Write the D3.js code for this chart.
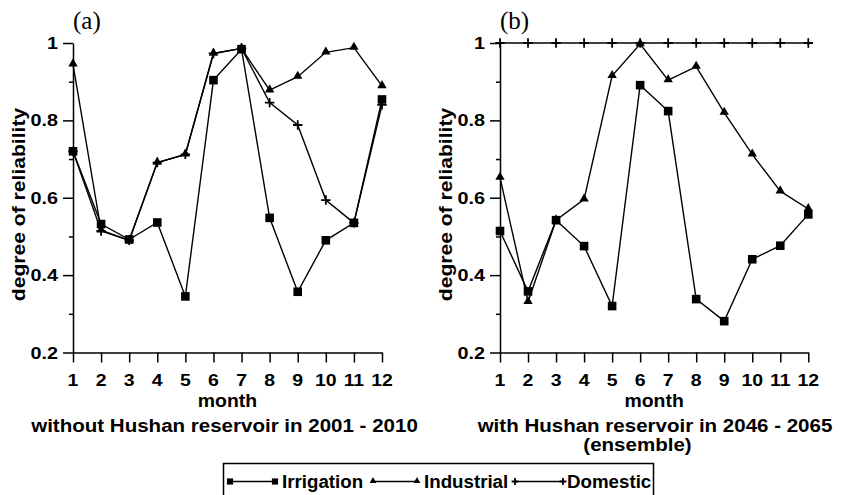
<!DOCTYPE html>
<html>
<head>
<meta charset="utf-8">
<script src="https://cdn.jsdelivr.net/npm/d3@7"></script>
<style>
  body { margin: 0; background: #fff; }
  svg text { font-family: "Liberation Sans", Arial, sans-serif; font-weight: bold; fill: #000; }
  svg text.tag { font-family: "Liberation Serif", "Times New Roman", serif; font-weight: normal; }
</style>
</head>
<body>
<svg id="chart" width="842" height="495"></svg>
<script>
// ---- data ----
const months = [1, 2, 3, 4, 5, 6, 7, 8, 9, 10, 11, 12];
const yTicks = [0.2, 0.4, 0.6, 0.8, 1];
const yMinor = [0.3, 0.5, 0.7, 0.9];

const irrigationA = [0.72, 0.532, 0.492, 0.536, 0.345, 0.904, 0.984, 0.548, 0.357, 0.49, 0.535, 0.854];
const industrialA = [0.945, 0.516, 0.49, 0.691, 0.712, 0.973, 0.986, 0.878, 0.913, 0.976, 0.988, 0.889];
const domesticA = [0.72, 0.514, 0.49, 0.691, 0.712, 0.973, 0.986, 0.846, 0.788, 0.594, 0.535, 0.84];

const irrigationB = [0.514, 0.358, 0.542, 0.475, 0.32, 0.891, 0.824, 0.338, 0.281, 0.441, 0.476, 0.557];
const industrialB = [0.652, 0.331, 0.542, 0.596, 0.915, 0.997, 0.904, 0.939, 0.82, 0.712, 0.617, 0.571];
const domesticB = [1, 1, 1, 1, 1, 1, 1, 1, 1, 1, 1, 1];

const seriesNames = ["Irrigation", "Industrial", "Domestic"];

const svg = d3.select("#chart");

//-----------------------------------
// text stretched sideways, the source font is wider than Arial
function label(g, x, y, s, size, sx, anchor, rot) {
	return g.append("text")
		.attr("transform", "translate(" + x + "," + y + ")" + (rot ? " rotate(" + rot + ")" : "") + " scale(" + sx + ",1)")
		.attr("text-anchor", anchor)
		.style("font-size", size + "px")
		.text(s);
}

//-----------------------------------
function marker(g, kind, x, y, big) {
	let k = big ? 1 : 0.72;
	if (kind === "square") {
		g.append("path").attr("d", d3.symbol(d3.symbolSquare, 74 * k * k)())
			.attr("transform", "translate(" + x + "," + y + ")").attr("fill", "#000");
	} else if (kind === "triangle") {
		g.append("path").attr("d", d3.symbol(d3.symbolTriangle, 38 * k * k)())
			.attr("transform", "translate(" + x + "," + (y - 0.5) + ")").attr("fill", "#000");
	} else {
		let r = 4.7 * k;
		g.append("path").attr("d", "M" + (x - r) + "," + y + "H" + (x + r) + "M" + x + "," + (y - r) + "V" + (y + r))
			.attr("stroke", "#000").attr("stroke-width", 1.8).attr("fill", "none");
	}
}

//-----------------------------------
function drawPanel(p) {
	const g = svg.append("g");
	const x = d3.scaleLinear().domain([1, 12]).range([p.x0, p.x1]);
	const y = d3.scaleLinear().domain([0.2, 1]).range([352.5, 43]);

	// axes
	g.append("g").attr("transform", "translate(" + p.x0 + ",0)")
		.call(d3.axisLeft(y).tickValues(yTicks).tickSize(10).tickSizeOuter(0).tickFormat(""));
	g.append("g").attr("transform", "translate(" + p.x0 + ",0)")
		.call(d3.axisLeft(y).tickValues(yMinor).tickSize(4).tickSizeOuter(0).tickFormat(""))
		.select(".domain").remove();
	g.append("g").attr("transform", "translate(0," + y(0.2) + ")")
		.call(d3.axisBottom(x).tickValues(months).tickSize(10).tickSizeOuter(0).tickFormat(""));
	g.selectAll(".domain, .tick line").attr("stroke", "#000").attr("stroke-width", 1.5);

	yTicks.forEach(function (v) {
		label(g, p.x0 - 15, y(v) + 6, v === 1 ? "1" : d3.format(".1f")(v), 16.5, 1.2, "end");
	});
	months.forEach(function (m) {
		label(g, x(m), 385.5, String(m), 16.5, 1.18, "middle");
	});

	label(g, (p.x0 + p.x1) / 2, 406.5, "month", 17.5, 1.11, "middle");
	label(g, p.titleX, 431.5, p.title, 18.5, 1.11, "middle");
	if (p.title2)
		label(g, p.title2X, 451, p.title2, 18.5, 1.11, "middle");
	label(g, p.x0 - 48, 204.5, "degree of reliability", 18.2, 1.16, "middle", -90);

	g.append("text").attr("class", "tag").attr("x", p.x0).attr("y", 29)
		.style("font-size", "25px").text(p.tag);

	// lines then markers
	const line = d3.line().x(function (d, i) { return x(months[i]); }).y(function (d) { return y(d); });
	const kinds = ["square", "triangle", "plus"];
	[p.irr, p.ind, p.dom].forEach(function (s) {
		g.append("path").datum(s).attr("d", line).attr("fill", "none")
			.attr("stroke", "#000").attr("stroke-width", 1.4);
	});
	[p.dom, p.ind, p.irr].forEach(function (s, j) {
		let kind = kinds[2 - j];
		s.forEach(function (v, i) { marker(g, kind, x(months[i]), y(v), true); });
	});
}

drawPanel({ x0: 73, x1: 382, tag: "(a)", irr: irrigationA, ind: industrialA, dom: domesticA,
	title: "without Hushan reservoir in 2001 - 2010", titleX: 224.5 });
drawPanel({ x0: 500, x1: 808.3, tag: "(b)", irr: irrigationB, ind: industrialB, dom: domesticB,
	title: "with Hushan reservoir in 2046 - 2065", titleX: 655, title2: "(ensemble)", title2X: 637.5 });

//------- legend
const lg = svg.append("g");
lg.append("rect").attr("x", 223.5).attr("y", 463.5).attr("width", 430).attr("height", 40)
	.attr("fill", "none").attr("stroke", "#000").attr("stroke-width", 1.5);
const legendItems = [
	{ kind: "square", a: 230, b: 275, tx: 282 },
	{ kind: "triangle", a: 373, b: 417, tx: 424 },
	{ kind: "plus", a: 515, b: 563, tx: 567 }
];
legendItems.forEach(function (it, i) {
	lg.append("line").attr("x1", it.a).attr("x2", it.b).attr("y1", 481.5).attr("y2", 481.5)
		.attr("stroke", "#000").attr("stroke-width", 1.4);
	marker(lg, it.kind, it.a, 481.5, false);
	marker(lg, it.kind, it.b, 481.5, false);
	label(lg, it.tx, 488.3, seriesNames[i], 18, 1.04, "start");
});
</script>
</body>
</html>
